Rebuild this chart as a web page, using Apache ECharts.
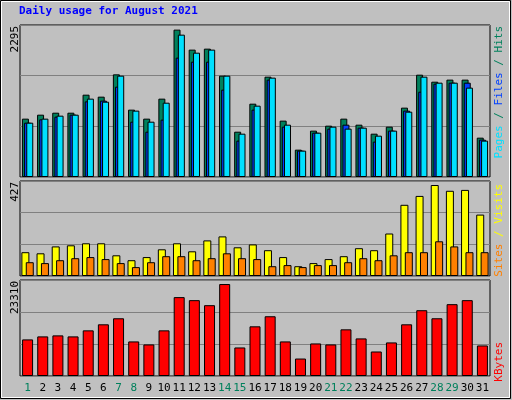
<!DOCTYPE html>
<html><head><meta charset="utf-8">
<script src="https://cdn.jsdelivr.net/npm/echarts@6/dist/echarts.min.js"></script>
<style>html,body{margin:0;padding:0;background:#c0c0c0}#c{width:512px;height:400px}</style>
</head><body><div id="c"></div>
<script>
const days = ['1','2','3','4','5','6','7','8','9','10','11','12','13','14','15','16','17','18','19','20','21','22','23','24','25','26','27','28','29','30','31'];
const weekend = ['1','7','8','14','15','21','22','28','29'];
const hits = [881,941,971,971,1243,1213,1550,1017,881,1183,2225,1923,1938,1530,684,1107,1515,851,413,700,775,881,790,654,760,1047,1545,1439,1470,1470,594];
const files = [820,871,911,941,1142,1153,1364,835,684,866,1802,1741,1741,1319,549,1017,1470,760,398,669,730,790,745,534,700,1002,1288,1409,1424,1424,564];
const pages = [820,881,926,941,1183,1137,1530,1002,835,1122,2149,1877,1923,1530,654,1077,1500,790,398,669,760,730,745,624,700,986,1515,1424,1424,1349,549];
const visits = [107,102,133,138,147,147,93,71,85,120,147,111,160,178,129,142,116,85,44,58,76,89,125,116,191,320,360,409,383,387,276];
const sites = [62,58,71,80,85,76,58,40,62,89,89,71,80,102,80,76,44,49,40,49,49,62,80,71,93,107,107,156,133,107,107];
const kbytes = [8884,9617,9862,9617,11084,12551,14018,8395,7661,11084,19153,18419,17197,22331,6928,12062,14507,8395,4238,7906,7661,11329,9128,5950,8150,12551,15974,14018,17441,18419,7417];
const maxHits = 2295, maxVisits = 427, maxKB = 23310;

const mono = '"DejaVu Sans Mono", monospace';
const chart = echarts.init(document.getElementById('c'));
const grids = [
  {left:20, width:470, top:25, height:152},
  {left:20, width:470, top:181, height:95},
  {left:20, width:470, top:280, height:96}
].map(g => Object.assign(g, {show:true, backgroundColor:'#c0c0c0', borderColor:'#000', borderWidth:1}));
const xAxis = [0,1,2].map(i => ({
  type:'category', gridIndex:i, data: days.map(d => ({value:d, textStyle:{color: weekend.includes(d)?'#00805c':'#000'}})),
  axisLine:{show:false}, axisTick:{show:false},
  axisLabel:{show:i===2, fontFamily:mono, fontSize:11, margin:7, interval:0}
}));
const maxes = [maxHits, maxVisits, maxKB];
const yAxis = [0,1,2].map(i => ({
  type:'value', gridIndex:i, min:0, max:maxes[i], interval:maxes[i]/3,
  axisLabel:{show:false}, axisLine:{show:false}, axisTick:{show:false},
  splitLine:{show:true, lineStyle:{color:'#808080', width:1}}
}));
const bs = (name, data, color, gi, w, gap) => ({
  type:'bar', name, data, xAxisIndex:gi, yAxisIndex:gi, barWidth:w, barGap:gap,
  itemStyle:{color, borderColor:'#000', borderWidth:1}, animation:false, silent:true
});
const rt = (txt, x, y, color, extra) => Object.assign({type:'text', x, y, rotation:Math.PI/2,
  style:{text:txt, fill:color, font:'11px '+mono, textAlign:'right', textVerticalAlign:'top'}}, extra||{});
chart.setOption({
  backgroundColor:'#c0c0c0',
  grid: grids, xAxis, yAxis,
  series: [
    bs('Hits', hits, '#00805c', 0, 7, '-69%'),
    bs('Files', files, '#0040ff', 0, 7, '-69%'),
    bs('Pages', pages, '#00e0ff', 0, 7, '-69%'),
    bs('Visits', visits, '#ffff00', 1, 8, '-45%'),
    bs('Sites', sites, '#ff8000', 1, 8, '-45%'),
    bs('KBytes', kbytes, '#ff0000', 2, 11, '0%')
  ],
  graphic: [
    {type:'rect', shape:{x:0.5,y:0.5,width:510,height:398}, style:{fill:'none', stroke:'#000', lineWidth:1}},
    {type:'rect', shape:{x:1.5,y:1.5,width:508,height:396}, style:{fill:'none', stroke:'#fff', lineWidth:1}},
    {type:'text', x:19, y:6, style:{text:'Daily usage for August 2021', fill:'#0000ff', font:'bold 11px '+mono}},
    {type:'text', x:10, y:26, rotation:Math.PI/2, style:{text:String(maxHits), fill:'#000', font:'11px '+mono, textAlign:'right', textVerticalAlign:'top'}},
    {type:'text', x:10, y:182, rotation:Math.PI/2, style:{text:String(maxVisits), fill:'#000', font:'11px '+mono, textAlign:'right', textVerticalAlign:'top'}},
    {type:'text', x:10, y:281, rotation:Math.PI/2, style:{text:String(maxKB), fill:'#000', font:'11px '+mono, textAlign:'right', textVerticalAlign:'top'}},
    {type:'text', x:494, y:26, rotation:Math.PI/2, style:{text:'{p|Pages}{s| / }{f|Files}{s| / }{h|Hits}', textAlign:'right', textVerticalAlign:'top', font:'11px '+mono,
      rich:{p:{fill:'#00e0ff',font:'11px '+mono}, f:{fill:'#0040ff',font:'11px '+mono}, h:{fill:'#00805c',font:'11px '+mono}, s:{fill:'#00805c',font:'11px '+mono}}}},
    {type:'text', x:494, y:184, rotation:Math.PI/2, style:{text:'{s|Sites}{v| / Visits}', textAlign:'right', textVerticalAlign:'top', font:'11px '+mono,
      rich:{s:{fill:'#ff8000',font:'11px '+mono}, v:{fill:'#ffff00',font:'11px '+mono}}}},
    {type:'text', x:494, y:342, rotation:Math.PI/2, style:{text:'KBytes', fill:'#ff0000', font:'11px '+mono, textAlign:'right', textVerticalAlign:'top'}}
  ]
});
</script></body></html>
